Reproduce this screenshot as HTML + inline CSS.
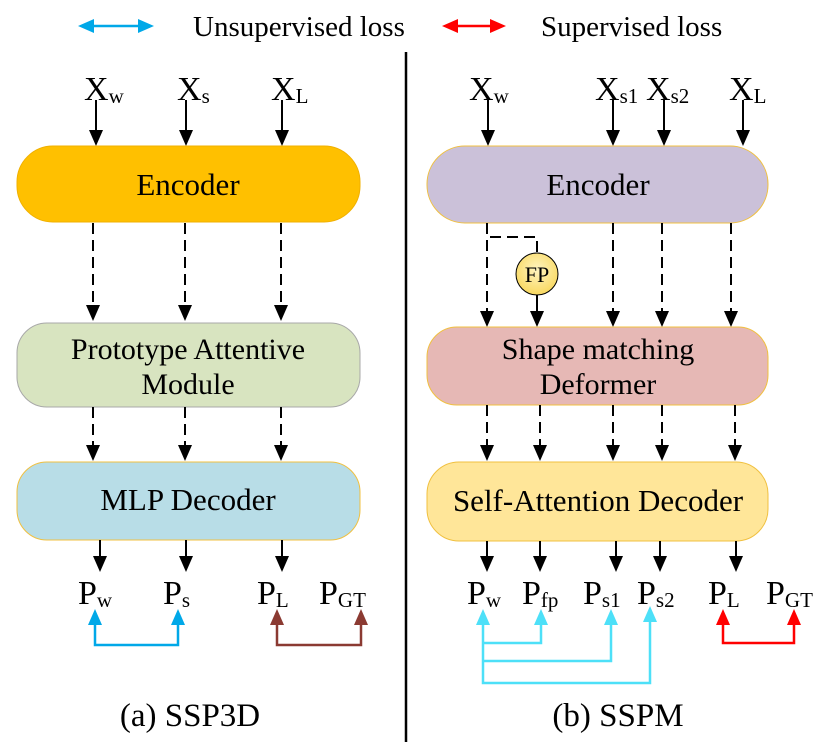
<!DOCTYPE html>
<html><head><meta charset="utf-8"><style>html,body{margin:0;padding:0;background:#fff}svg{display:block}svg text{font-family:"Liberation Serif","Times New Roman","Noto Serif CJK SC","DejaVu Serif",serif !important;fill:#000}</style></head><body>
<svg width="829" height="742" viewBox="0 0 829 742" xmlns="http://www.w3.org/2000/svg">
<g stroke-width="2.5">
<line x1="88" y1="26" x2="144" y2="26" stroke="#00A8E8"/>
<path d="M78,26 L94,19 L94,33 Z M154,26 L138,19 L138,33 Z" fill="#00A8E8"/>
<line x1="452" y1="26" x2="496" y2="26" stroke="#FF0000"/>
<path d="M442,26 L458,19 L458,33 Z M506,26 L490,19 L490,33 Z" fill="#FF0000"/>
</g>
<text x="193" y="36" font-size="29">Unsupervised loss</text>
<text x="541" y="36" font-size="29">Supervised loss</text>
<line x1="406" y1="52" x2="406" y2="742" stroke="#000" stroke-width="2.5"/>

<g font-size="34">
<text x="84" y="100">X<tspan font-size="21" dy="3">w</tspan></text>
<text x="177" y="100">X<tspan font-size="21" dy="3">s</tspan></text>
<text x="271" y="100">X<tspan font-size="21" dy="3">L</tspan></text>
</g>
<g stroke="#000" stroke-width="2" fill="none">
<line x1="96" y1="100" x2="96" y2="132"/>
<line x1="186" y1="100" x2="186" y2="132"/>
<line x1="282" y1="100" x2="282" y2="132"/>
</g>
<g fill="#000">
<path d="M89,130 L103,130 L96,146 Z"/><path d="M179,130 L193,130 L186,146 Z"/><path d="M275,130 L289,130 L282,146 Z"/>
</g>
<rect x="17" y="146" width="343" height="76" rx="36" fill="#FFC000" stroke="#F0B000"/>
<text x="188" y="195" font-size="31" text-anchor="middle">Encoder</text>
<g stroke="#000" stroke-width="2" fill="none" stroke-dasharray="11,6">
<line x1="93" y1="223" x2="93" y2="306"/>
<line x1="185" y1="223" x2="185" y2="306"/>
<line x1="281" y1="223" x2="281" y2="306"/>
</g>
<g fill="#000">
<path d="M86,305 L100,305 L93,321 Z"/><path d="M178,305 L192,305 L185,321 Z"/><path d="M274,305 L288,305 L281,321 Z"/>
</g>
<rect x="17" y="323" width="343" height="84" rx="30" fill="#D8E4C0" stroke="#A8A8A8"/>
<text x="188" y="359" font-size="30" text-anchor="middle">Prototype Attentive</text>
<text x="188" y="394" font-size="30" text-anchor="middle">Module</text>
<g stroke="#000" stroke-width="2" fill="none" stroke-dasharray="11,6">
<line x1="93" y1="407" x2="93" y2="446"/>
<line x1="185" y1="407" x2="185" y2="446"/>
<line x1="281" y1="407" x2="281" y2="446"/>
</g>
<g fill="#000">
<path d="M86,445 L100,445 L93,461 Z"/><path d="M178,445 L192,445 L185,461 Z"/><path d="M274,445 L288,445 L281,461 Z"/>
</g>
<rect x="17" y="462" width="343" height="78" rx="30" fill="#B8DDE7" stroke="#F0C040"/>
<text x="188" y="510" font-size="31" text-anchor="middle">MLP Decoder</text>
<g stroke="#000" stroke-width="2" fill="none">
<line x1="100" y1="540" x2="100" y2="558"/>
<line x1="186" y1="540" x2="186" y2="558"/>
<line x1="282" y1="540" x2="282" y2="558"/>
</g>
<g fill="#000">
<path d="M93,556 L107,556 L100,572 Z"/><path d="M179,556 L193,556 L186,572 Z"/><path d="M275,556 L289,556 L282,572 Z"/>
</g>
<g font-size="34">
<text x="78" y="604">P<tspan font-size="21" dy="3">w</tspan></text>
<text x="163" y="604">P<tspan font-size="21" dy="3">s</tspan></text>
<text x="257" y="604">P<tspan font-size="21" dy="3">L</tspan></text>
<text x="319" y="604">P<tspan font-size="21" dy="3">GT</tspan></text>
</g>
<polyline points="95,622 95,645 178,645 178,622" fill="none" stroke="#00A8E8" stroke-width="2.5"/>
<path d="M95,609 L88,625 L102,625 Z M178,609 L171,625 L185,625 Z" fill="#00A8E8"/>
<polyline points="277,622 277,645 361,645 361,622" fill="none" stroke="#8B3A32" stroke-width="2.5"/>
<path d="M277,609 L270,625 L284,625 Z M361,609 L354,625 L368,625 Z" fill="#8B3A32"/>
<text x="190" y="726" font-size="33" text-anchor="middle">(a) SSP3D</text>

<g font-size="34">
<text x="469" y="100">X<tspan font-size="21" dy="3">w</tspan></text>
<text x="595" y="100">X<tspan font-size="21" dy="3">s1</tspan></text>
<text x="646" y="100">X<tspan font-size="21" dy="3">s2</tspan></text>
<text x="729" y="100">X<tspan font-size="21" dy="3">L</tspan></text>
</g>
<g stroke="#000" stroke-width="2" fill="none">
<line x1="488" y1="100" x2="488" y2="132"/>
<line x1="613" y1="100" x2="613" y2="132"/>
<line x1="664" y1="100" x2="664" y2="132"/>
<line x1="743" y1="100" x2="743" y2="132"/>
</g>
<g fill="#000">
<path d="M481,130 L495,130 L488,146 Z"/><path d="M606,130 L620,130 L613,146 Z"/><path d="M657,130 L671,130 L664,146 Z"/><path d="M736,130 L750,130 L743,146 Z"/>
</g>
<rect x="427" y="146" width="341" height="77" rx="38" fill="#CBC1D9" stroke="#F0C040"/>
<text x="598" y="195" font-size="31" text-anchor="middle">Encoder</text>
<g stroke="#000" stroke-width="2" fill="none" stroke-dasharray="11,6">
<line x1="487" y1="223" x2="487" y2="312"/>
<polyline points="490,237 537,237 537,253"/>
<line x1="613" y1="223" x2="613" y2="312"/>
<line x1="662" y1="223" x2="662" y2="312"/>
<line x1="731" y1="223" x2="731" y2="312"/>
</g>
<line x1="537" y1="295" x2="537" y2="312" stroke="#000" stroke-width="2"/>
<g fill="#000">
<path d="M480,311 L494,311 L487,327 Z"/><path d="M530,311 L544,311 L537,327 Z"/><path d="M606,311 L620,311 L613,327 Z"/><path d="M655,311 L669,311 L662,327 Z"/><path d="M724,311 L738,311 L731,327 Z"/>
</g>
<defs><radialGradient id="fpg" cx="50%" cy="40%" r="60%"><stop offset="0" stop-color="#FFF4C0"/><stop offset="1" stop-color="#F8D860"/></radialGradient></defs>
<circle cx="537" cy="274" r="21" fill="url(#fpg)" stroke="#000" stroke-width="1"/>
<text x="537" y="282" font-size="22" text-anchor="middle">FP</text>
<rect x="427" y="327" width="341" height="78" rx="30" fill="#E6B8B5" stroke="#F0C040"/>
<text x="598" y="359" font-size="30" text-anchor="middle">Shape matching</text>
<text x="598" y="394" font-size="30" text-anchor="middle">Deformer</text>
<g stroke="#000" stroke-width="2" fill="none" stroke-dasharray="11,6">
<line x1="487" y1="405" x2="487" y2="446"/>
<line x1="540" y1="405" x2="540" y2="446"/>
<line x1="613" y1="405" x2="613" y2="446"/>
<line x1="662" y1="405" x2="662" y2="446"/>
<line x1="735" y1="405" x2="735" y2="446"/>
</g>
<g fill="#000">
<path d="M480,445 L494,445 L487,461 Z"/><path d="M533,445 L547,445 L540,461 Z"/><path d="M606,445 L620,445 L613,461 Z"/><path d="M655,445 L669,445 L662,461 Z"/><path d="M728,445 L742,445 L735,461 Z"/>
</g>
<rect x="427" y="462" width="341" height="79" rx="32" fill="#FFE699" stroke="#F0C040"/>
<text x="598" y="511" font-size="31" text-anchor="middle">Self-Attention Decoder</text>
<g stroke="#000" stroke-width="2" fill="none">
<line x1="487" y1="541" x2="487" y2="558"/>
<line x1="540" y1="541" x2="540" y2="558"/>
<line x1="616" y1="541" x2="616" y2="558"/>
<line x1="660" y1="541" x2="660" y2="558"/>
<line x1="736" y1="541" x2="736" y2="558"/>
</g>
<g fill="#000">
<path d="M480,556 L494,556 L487,572 Z"/><path d="M533,556 L547,556 L540,572 Z"/><path d="M609,556 L623,556 L616,572 Z"/><path d="M653,556 L667,556 L660,572 Z"/><path d="M729,556 L743,556 L736,572 Z"/>
</g>
<g font-size="34">
<text x="467" y="604">P<tspan font-size="21" dy="3">w</tspan></text>
<text x="522" y="604">P<tspan font-size="21" dy="3">fp</tspan></text>
<text x="583" y="604">P<tspan font-size="21" dy="3">s1</tspan></text>
<text x="637" y="604">P<tspan font-size="21" dy="3">s2</tspan></text>
<text x="708" y="604">P<tspan font-size="21" dy="3">L</tspan></text>
<text x="766" y="604">P<tspan font-size="21" dy="3">GT</tspan></text>
</g>
<g fill="none" stroke="#4DE0F8" stroke-width="2.5">
<polyline points="483,622 483,683 650,683 650,622"/>
<polyline points="483,643 541,643 541,622"/>
<polyline points="483,661 611,661 611,622"/>
</g>
<path d="M483,609 L476,625 L490,625 Z M541,609 L534,625 L548,625 Z M611,609 L604,625 L618,625 Z M650,606 L643,622 L657,622 Z" fill="#4DE0F8"/>
<polyline points="723,622 723,643 794,643 794,622" fill="none" stroke="#FF0000" stroke-width="2.5"/>
<path d="M723,609 L716,625 L730,625 Z M794,609 L787,625 L801,625 Z" fill="#FF0000"/>
<text x="618" y="726" font-size="33" text-anchor="middle">(b) SSPM</text>
</svg>
</body></html>
